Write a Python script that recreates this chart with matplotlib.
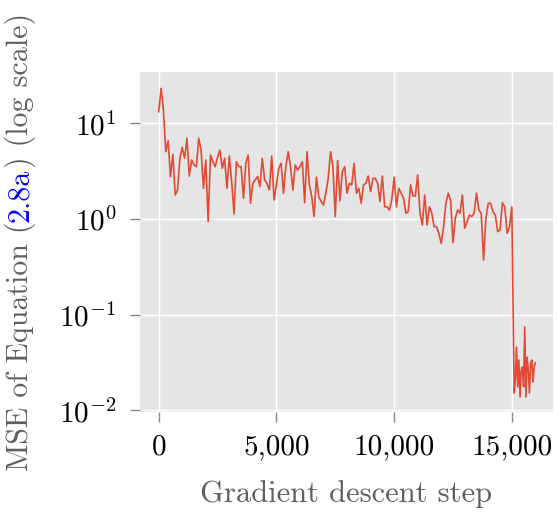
import numpy as np
import matplotlib
matplotlib.use('Agg')
import matplotlib.pyplot as plt
from matplotlib.ticker import FuncFormatter, NullLocator

# Loss curve, logged every 100 steps up to 15,000 and every 50 steps after
STEPS_MAIN = np.arange(0, 15001, 100)
MSE_MAIN = [
    13.2, 23.2, 13.8, 5.05, 6.58, 2.77, 4.74, 1.78, 2.01, 4.31,
    5.61, 4.31, 6.97, 2.81, 4.14, 3.67, 3.52, 6.97, 5.26, 2.09,
    4.14, 0.94, 4.66, 3.97, 3.52, 4.41, 5.26, 3.39, 4.31, 2.09,
    4.55, 2.45, 1.13, 3.97, 3.52, 3.52, 1.65, 3.82, 4.66, 1.46,
    2.36, 2.56, 2.77, 2.18, 4.31, 2.56, 2.36, 2.01, 4.55, 1.58,
    2.27, 3.39, 3.82, 1.86, 3.52, 5.05, 3.52, 2.01, 3.67, 3.25,
    3.52, 3.97, 1.48, 5.05, 2.27, 1.71, 1.06, 2.73, 1.71, 1.52,
    1.40, 1.86, 2.66, 5.05, 3.52, 1.06, 4.07, 1.55, 3.12, 3.52,
    1.86, 2.36,
    2.27, 3.82, 1.86, 2.09, 1.46, 2.27, 2.36, 2.81, 1.93, 2.66,
    2.66, 2.36, 1.52, 2.81, 1.34, 1.34, 1.24, 1.58, 2.73, 1.34,
    2.09, 1.86, 1.65, 1.15, 1.19, 2.27, 1.74, 1.74, 2.88, 1.15,
    0.865, 1.78, 0.865, 1.34, 1.15, 0.831, 0.831, 0.709, 0.557, 0.831,
    1.46, 1.86, 1.58, 0.565, 1.02, 1.24, 1.15, 1.78, 0.80,
    0.94, 1.10, 1.06, 1.15, 1.86, 1.24, 1.15, 0.373, 1.02, 1.46,
    1.46, 1.19, 1.10, 0.737, 0.767, 1.48, 1.34, 0.709, 0.831, 1.34,
]
STEPS_TAIL = np.arange(15050, 16001, 50)
MSE_TAIL = [
    0.136, 0.0152, 0.0208, 0.0459, 0.0176, 0.0336, 0.0138, 0.0264, 0.0284, 0.0176,
    0.0744, 0.0138, 0.0361, 0.0264, 0.0152, 0.0313, 0.0336, 0.0198, 0.0284, 0.0313,
]
X_TICKS = [0, 5000, 10000, 15000]
Y_TICKS = [1e-2, 1e-1, 1e0, 1e1]

LINE_COLOR = '#E24A33'
BG_COLOR = '#E5E5E5'
LABEL_GRAY = '#5f5f5f'
TICK_SIZE = 21
LABEL_SIZE = 22

plt.rcParams['font.family'] = 'cmr10'
plt.rcParams['mathtext.fontset'] = 'cm'
plt.rcParams['axes.formatter.use_mathtext'] = True


def colored_ylabel(fig, pieces, x_px, yc_px, size):
    # stack rotated text pieces along a shared baseline
    renderer = fig.canvas.get_renderer()
    W, H = fig.bbox.width, fig.bbox.height
    texts, lengths = [], []
    for s, c in pieces:
        t = fig.text(0, 0, s, color=c, fontsize=size, rotation=90,
                     rotation_mode='anchor', ha='left', va='baseline')
        lengths.append(t.get_window_extent(renderer).height)
        texts.append(t)
    y = yc_px - sum(lengths) / 2
    for t, L in zip(texts, lengths):
        t.set_position((x_px / W, y / H))
        y += L


def main():
    steps = np.concatenate([STEPS_MAIN, STEPS_TAIL])
    mse = np.array(MSE_MAIN + MSE_TAIL)

    fig = plt.figure(figsize=(5.57, 5.14), dpi=100)
    ax = fig.add_axes([140 / 557, 102 / 514, 413 / 557, 340 / 514])
    ax.set_facecolor(BG_COLOR)
    for sp in ax.spines.values():
        sp.set_visible(False)
    ax.grid(True, color='white', linewidth=1.0)
    ax.set_axisbelow(True)

    ax.plot(steps, mse, color=LINE_COLOR, linewidth=1.2)

    ax.set_yscale('log')
    ax.set_ylim(10 ** -2.017, 10 ** 1.536)
    ax.set_xlim(-795, 16750)
    ax.set_yticks(Y_TICKS)
    ax.yaxis.set_minor_locator(NullLocator())
    ax.set_xticks(X_TICKS)
    ax.xaxis.set_major_formatter(FuncFormatter(lambda v, p: f'{v:,.0f}'))

    ax.tick_params(axis='both', which='major', direction='out', length=7,
                   width=1, color='#888888', labelsize=TICK_SIZE,
                   labelcolor='black')
    ax.tick_params(axis='y', pad=10)
    ax.tick_params(axis='x', pad=9)

    ax.set_xlabel('Gradient descent step', fontsize=LABEL_SIZE,
                  color=LABEL_GRAY, labelpad=14)

    colored_ylabel(fig, [('MSE of Equation (', LABEL_GRAY),
                         ('2.8a', '#0000FF'),
                         (') (log scale)', LABEL_GRAY)],
                   x_px=28, yc_px=514 - 242, size=21.6)

    fig.savefig('out.png', dpi=100)


if __name__ == '__main__':
    main()
